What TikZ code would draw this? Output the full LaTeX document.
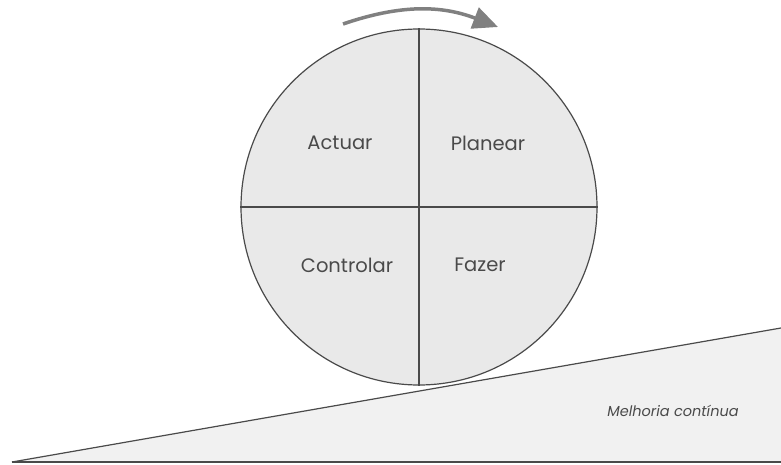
\documentclass[tikz,border=0pt]{standalone}
\usepackage{fontspec}
\setmainfont{Poppins}
\usepackage{xcolor}
\usepackage{tikz}
\usetikzlibrary{positioning, arrows.meta}

\definecolor{inkgray}{HTML}{4A4A4A}
\definecolor{wheelfill}{HTML}{E9E9E9}
\definecolor{rampfill}{HTML}{F1F1F1}

\begin{document}
\begin{tikzpicture}[x=1pt, y=-1pt,
    label/.style={text=inkgray, font=\fontsize{19.5}{22}\selectfont},
    edge/.style={draw=inkgray, line width=1.2pt}]
  \useasboundingbox (0,0) rectangle (781,465);

  % Ramp (bottom)
  \coordinate (rampL) at (12,462);
  \coordinate (rampR) at (781,328);
  \coordinate (rampB) at (781,462);
  \fill[rampfill] (rampL) -- (rampR) -- (rampB) -- cycle;
  \draw[edge] (rampL) -- (rampR);
  \draw[edge] (rampL) -- (rampB);
  \node (ramp) [label, font=\fontsize{14.5}{17}\selectfont\itshape] at (673,411) {Melhoria contínua};

  % PDCA wheel
  \node (wheel) [circle, edge, fill=wheelfill, minimum size=356pt, inner sep=0pt] at (419,207) {};
  \draw[edge] (wheel.north) -- (wheel.south);
  \draw[edge] (wheel.west) -- (wheel.east);
  \node (act) [label] at (340,143) {Actuar};
  \node (plan) [label] at (488,143) {Planear};
  \node (check) [label] at (347,265) {Controlar};
  \node (do) [label] at (480,265) {Fazer};

  % Rotation arrow (top)
  \coordinate (turnL) at (343,24);
  \coordinate (turnR) at (498,27);
  \draw[draw=gray, line width=3.5pt, -{Triangle[length=25pt, width=22pt]}] (turnL) to[bend left=20] (turnR);
\end{tikzpicture}
\end{document}
